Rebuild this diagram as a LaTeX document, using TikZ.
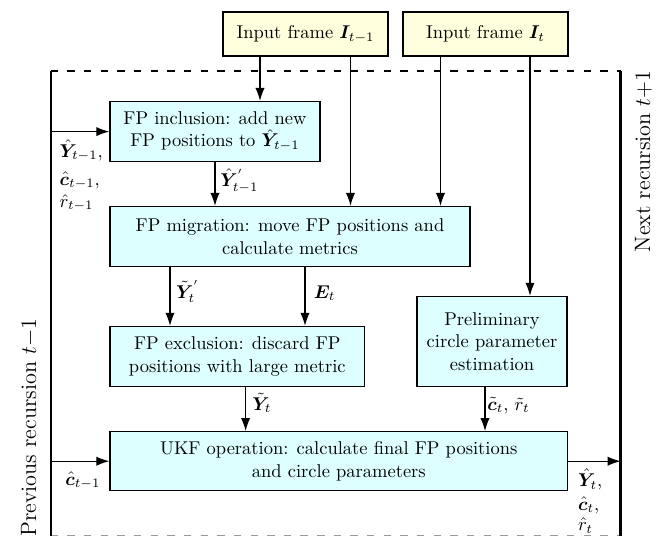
\documentclass[tikz,border=0pt]{standalone}
\usepackage{amsmath,bm}
\usetikzlibrary{arrows.meta}
\def\uu{0.54054pt}
\definecolor{cboxfill}{RGB}{221,255,255}
\definecolor{yboxfill}{RGB}{255,255,221}
\begin{document}
\begin{tikzpicture}[x=0.54054pt,y=-0.54054pt,
  box/.style={draw,line width=0.8pt,fill=cboxfill,align=center,inner sep=0pt,anchor=center},
  inbox/.style={box,fill=yboxfill},
  arr/.style={-{Latex[length=7pt,width=5pt]},line width=0.6pt},
  side/.style={line width=1.2pt},
  frame/.style={line width=0.6pt,dash pattern=on 4pt off 5pt},
  lbl/.style={anchor=base west,inner sep=0pt},
  rot/.style={rotate=90,anchor=base east,font=\large,inner sep=0pt}]
\useasboundingbox (0,0) rectangle (665,536);
% frame
\coordinate (tl) at (50.7,71);
\coordinate (tr) at (620.6,71);
\coordinate (bl) at (50.7,535.7);
\coordinate (br) at (620.6,535.7);
\draw[frame] (tl) -- (tr);
\draw[frame,black!40] (bl) -- (br);
\draw[side] (tl) -- (bl);
\draw[side] (tr) -- (br);
% boxes
\node[inbox,minimum width=165*\uu,minimum height=44*\uu] (in1) at (305.5,34) {Input frame $\bm{I}_{t-1}$};
\node[inbox,minimum width=165*\uu,minimum height=44*\uu] (in2) at (485.5,34) {Input frame $\bm{I}_{t}$};
\node[box,minimum width=210*\uu,minimum height=60*\uu] (incl) at (215,131.6) {FP inclusion: add new\\FP positions to $\hat{\bm{Y}}_{t-1}$};
\node[box,minimum width=360*\uu,minimum height=60*\uu] (mig) at (290,236.6) {FP migration: move FP positions and\\calculate metrics};
\node[box,minimum width=254.5*\uu,minimum height=60*\uu] (excl) at (237.3,356.5) {FP exclusion: discard FP\\positions with large metric};
\node[box,minimum width=150*\uu,minimum height=90*\uu] (prel) at (492,341.5) {Preliminary\\circle parameter\\estimation};
\node[box,minimum width=457.5*\uu,minimum height=59*\uu] (ukf) at (338.8,461.2) {UKF operation: calculate final FP positions\\and circle parameters};
% helper x positions
\coordinate (xA) at (260,0);
\coordinate (xB) at (350.5,0);
\coordinate (xC) at (440.5,0);
\coordinate (xD) at (530,0);
\coordinate (xE) at (170,0);
\coordinate (xF) at (305,0);
\coordinate (xG) at (245.6,0);
\coordinate (xH) at (485,0);
% arrows
\draw[arr] (in1.south -| xA) -- (incl.north -| xA);
\draw[arr] (in1.south -| xB) -- (mig.north -| xB);
\draw[arr] (in2.south -| xC) -- (mig.north -| xC);
\draw[arr] (in2.south -| xD) -- (prel.north -| xD);
\draw[arr] (incl.south) -- (mig.north -| incl.south);
\draw[arr] (mig.south -| xE) -- (excl.north -| xE);
\draw[arr] (mig.south -| xF) -- (excl.north -| xF);
\draw[arr] (excl.south -| xG) -- (ukf.north -| xG);
\draw[arr] (prel.south -| xH) -- (ukf.north -| xH);
\draw[arr] (tl |- incl.west) -- (incl.west);
\draw[arr] (bl |- ukf.west) -- (ukf.west);
\draw[arr] (ukf.east) -- (br |- ukf.east);
% labels
\node[lbl] (lYa) at (59.3,157) {$\hat{\bm{Y}}_{t-1}$,};
\node[lbl] (lca) at (59.3,185) {$\hat{\bm{c}}_{t-1}$,};
\node[lbl] (lra) at (59.3,207) {$\hat{r}_{t-1}$};
\node[lbl] (lcb) at (65,485) {$\hat{\bm{c}}_{t-1}$};
\node[lbl] (lYo) at (577.7,486.7) {$\hat{\bm{Y}}_{t}$,};
\node[lbl] (lco) at (577.7,510) {$\hat{\bm{c}}_{t}$,};
\node[lbl] (lro) at (577.7,530.7) {$\hat{r}_{t}$};
\node[lbl] (lYp) at (220,186.7) {$\hat{\bm{Y}}^{'}_{t-1}$};
\node[lbl] (lYt) at (175.7,298) {$\tilde{\bm{Y}}^{'}_{t}$};
\node[lbl] (lE) at (313.4,298) {$\bm{E}_{t}$};
\node[lbl] (lYx) at (252,410) {$\tilde{\bm{Y}}_{t}$};
\node[lbl] (lcr) at (487,410) {$\tilde{\bm{c}}_{t}$, $\tilde{r}_{t}$};
% side texts
\node[rot] (prev) at (36,318) {Previous recursion $t{-}1$};
\node[rot] (next) at (650,70) {Next recursion $t{+}1$};
\end{tikzpicture}
\end{document}
